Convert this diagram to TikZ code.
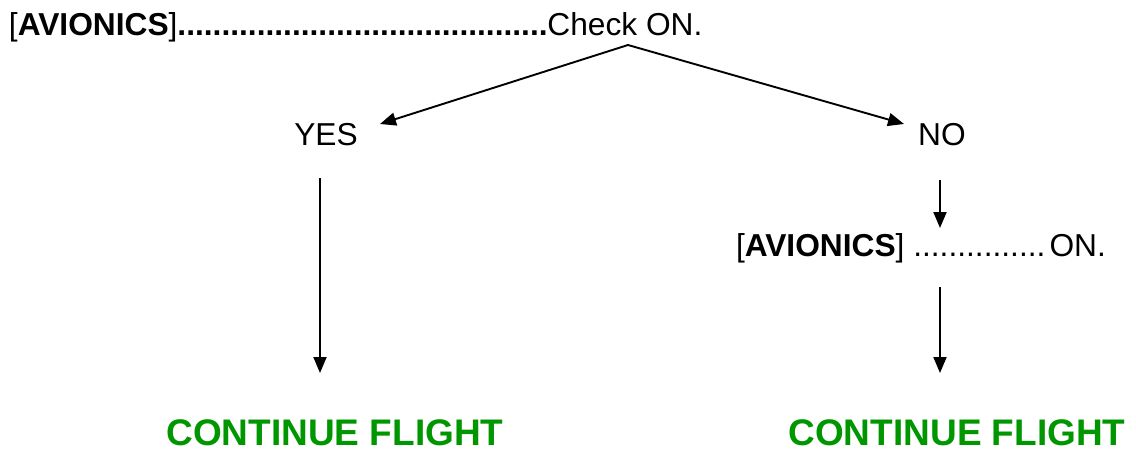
\documentclass[tikz,border=0pt]{standalone}
\usepackage{fontspec}
\setmainfont{Liberation Sans}
\usetikzlibrary{arrows.meta}
\definecolor{goodgreen}{RGB}{0,150,0}
\tikzset{
  txt/.style={inner sep=0pt, outer sep=0pt, anchor=base west, font=\fontsize{31.7}{38}\selectfont},
  ctxt/.style={inner sep=0pt, outer sep=0pt, anchor=base, font=\fontsize{31.7}{38}\selectfont},
  goal/.style={inner sep=0pt, outer sep=0pt, anchor=base, text=goodgreen, font=\fontsize{37}{44}\selectfont\bfseries},
  conn/.style={line width=1.9pt, -{Triangle[length=16pt,width=13pt]}}
}
\begin{document}
\begin{tikzpicture}[x=1pt,y=-1pt]
\useasboundingbox (0,0) rectangle (1136,452);
\node[txt] (top) at (9,36) {[\textbf{AVIONICS}]\textbf{..........................................}Check ON.};
\node[ctxt] (yes) at (326,146) {YES};
\node[ctxt] (no) at (942,146) {NO};
\node[txt] (av2) at (736,256) {[\textbf{AVIONICS}] ...............\hspace{4pt}ON.};
\node[goal] (cf1) at (335,445) {CONTINUE FLIGHT};
\node[goal] (cf2) at (957,445) {CONTINUE FLIGHT};
\coordinate (apex) at (628,45);
\coordinate (yesin) at (380,124);
\coordinate (noin) at (904,124);
\coordinate (yesout) at (320,178);
\coordinate (yesend) at (320,373);
\coordinate (noout) at (940,180);
\coordinate (noend) at (940,228);
\coordinate (avout) at (940,287);
\coordinate (avend) at (940,373);
\draw[conn] (apex) -- (yesin);
\draw[conn] (apex) -- (noin);
\draw[conn] (yesout) -- (yesend);
\draw[conn] (noout) -- (noend);
\draw[conn] (avout) -- (avend);
\end{tikzpicture}
\end{document}
